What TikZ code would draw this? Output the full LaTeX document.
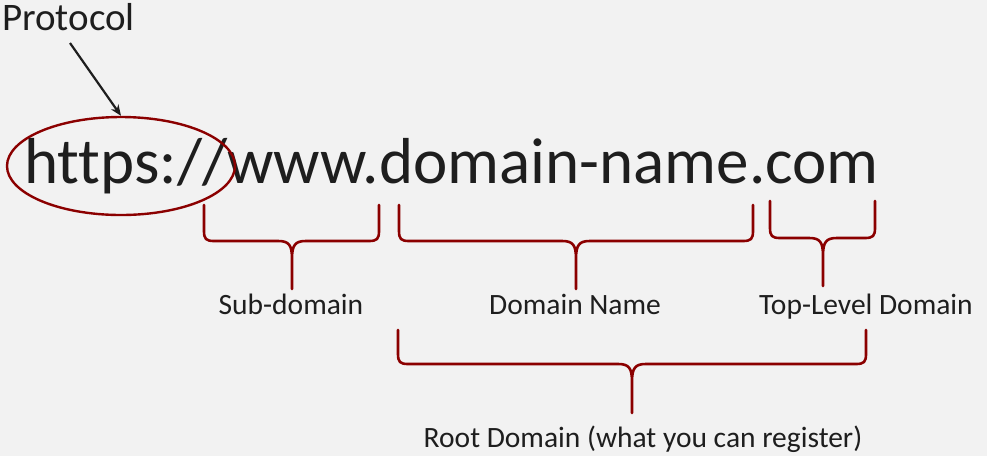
\documentclass[tikz,border=0pt]{standalone}
\usepackage{fontspec}
\setmainfont{Carlito}[Ligatures=NoCommon]
\usetikzlibrary{arrows.meta,shapes.geometric}
\definecolor{paper}{HTML}{F2F2F2}
\definecolor{darkred}{HTML}{8B0000}
\definecolor{ink}{HTML}{1E1E1E}
\begin{document}
\begin{tikzpicture}[x=1pt,y=-1pt,
    bracket/.style={draw=darkred,line width=2.6pt,line cap=round,line join=round},
    ring/.style={ellipse,draw=darkred,line width=2.4pt,inner sep=0pt,
      minimum width=228pt,minimum height=98pt},
    pointer/.style={draw=ink,line width=2.2pt,-{Stealth[length=11pt,width=9pt]}},
    label/.style={anchor=base,inner sep=0pt,text=ink,font=\fontsize{29.5}{34}\selectfont}]
    \fill[paper] (0,0) rectangle (987,456);
    \useasboundingbox (0,0) rectangle (987,456);
    % the address and the protocol
    \node[anchor=base west,inner sep=0pt,text=ink,font=\fontsize{65}{70}\selectfont]
      (url) at (24,183) {https://www.domain-name.com};
    \node[anchor=base west,inner sep=0pt,text=ink,font=\fontsize{39}{44}\selectfont]
      (ptext) at (2,30) {Protocol};
    \node[ring] (ring) at (121,166) {};
    \coordinate (ptail) at (70,43);
    \draw[pointer] (ptail) -- (ring.north);
    % braces: left/right/top/bar/middle/tip
    \foreach \l/\r/\t/\h/\m/\p/\name in {204/379/205/241/292/289/sub,
        399/753/205/241/576/289/dom, 770/875/201/238/823/286/tld,
        398/866/330/364/632/413/root}{
      \draw[bracket] (\l,\t) -- (\l,\h-10) .. controls (\l,\h-2) and (\l+2,\h) .. (\l+10,\h)
        -- (\m-14,\h) .. controls (\m-3,\h) and (\m,\h+4) .. (\m,\h+18) -- (\m,\p)
        (\m,\h+18) .. controls (\m,\h+4) and (\m+3,\h) .. (\m+14,\h)
        -- (\r-10,\h) .. controls (\r-2,\h) and (\r,\h-2) .. (\r,\h-10) -- (\r,\t);
      \coordinate (\name) at (\m,\p);
    }
    \node[label] (sublabel) at (291,314) {Sub-domain};
    \node[label] (domlabel) at (575,314) {Domain Name};
    \node[label] (tldlabel) at (866,314) {Top-Level Domain};
    \node[label] (rootlabel) at (643,447) {Root Domain (what you can register)};
  \end{tikzpicture}
\end{document}
